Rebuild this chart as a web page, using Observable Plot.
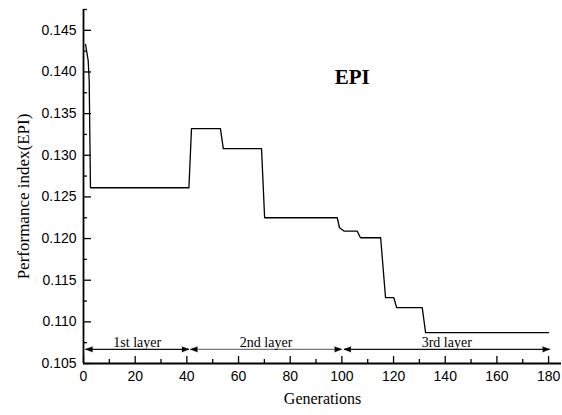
<!DOCTYPE html>
<html>
<head>
<meta charset="utf-8">
<script src="https://cdn.jsdelivr.net/npm/d3@7"></script>
<script src="https://cdn.jsdelivr.net/npm/@observablehq/plot@0.6"></script>
<style>
  html, body { margin: 0; padding: 0; background: #fff; }
  #chart svg { display: block; }
</style>
</head>
<body>
<div id="chart"></div>
<script>
// EPI best value per generation
const generations = [0.8, 1.8, 2.2, 2.7, 40.8, 41.8, 53.0, 54.1, 68.9, 70.1, 98.2, 99.1, 100.8, 105.9, 107.2, 115.0, 116.9, 120.1, 121.2, 131.1, 132.4, 180];
const epi = [0.1433, 0.1414, 0.1390, 0.1261, 0.1261, 0.1332, 0.1332, 0.1308, 0.1308, 0.1225, 0.1225, 0.1213, 0.1209, 0.1209, 0.1201, 0.1201, 0.1129, 0.1129, 0.1117, 0.1117, 0.1087, 0.1087];

// optimisation phases
const layerNames = ["1st layer", "2nd layer", "3rd layer"];
const layerStart = [0.8, 41.4, 100.8];
const layerEnd = [40.8, 99.9, 180.4];
const layerLevel = 0.1067;

// axis ticks
const xMajor = [0, 20, 40, 60, 80, 100, 120, 140, 160, 180];
const xMinor = [10, 30, 50, 70, 90, 110, 130, 150, 170];
const yMajor = [0.105, 0.110, 0.115, 0.120, 0.125, 0.130, 0.135, 0.140, 0.145];
const yMinor = [0.1075, 0.1125, 0.1175, 0.1225, 0.1275, 0.1325, 0.1375, 0.1425, 0.1475];

const series = generations.map((g, i) => ({g, v: epi[i]}));
const layers = layerNames.map((name, i) => ({
  name, x1: layerStart[i], x2: layerEnd[i], mid: (layerStart[i] + layerEnd[i]) / 2, y: layerLevel
}));

const W = 562, H = 415;
const mL = 83, mR = 1, mT = 9, mB = 52;
const frameW = W - mL - mR, frameH = H - mT - mB;

const serif = "'Liberation Serif', 'Times New Roman', serif";
const sans = "'Liberation Sans', Arial, sans-serif";

const chart = Plot.plot({
  width: W,
  height: H,
  marginLeft: mL,
  marginRight: mR,
  marginTop: mT,
  marginBottom: mB,
  style: {fontFamily: sans, fontSize: "14px", color: "#000", background: "#fff"},
  x: {domain: [0, 185]},
  y: {domain: [0.105, 0.1475]},
  marks: [
    // tick labels
    Plot.axisX({ticks: xMajor, tickSize: 0, tickPadding: 8, tickFormat: d3.format("d"), label: null, fontSize: 14}),
    Plot.axisY({ticks: yMajor, tickSize: 0, tickPadding: 7, tickFormat: d3.format(".3f"), label: null, fontSize: 14}),
    // inward tick marks
    Plot.ruleX(xMajor, {x: d => d, insetTop: frameH - 7, stroke: "#000", strokeWidth: 1.3}),
    Plot.ruleX(xMinor, {x: d => d, insetTop: frameH - 4, stroke: "#000", strokeWidth: 1.3}),
    Plot.ruleY(yMajor, {y: d => d, insetRight: frameW - 8, stroke: "#000", strokeWidth: 1.3}),
    Plot.ruleY(yMinor, {y: d => d, insetRight: frameW - 4, stroke: "#000", strokeWidth: 1.3}),
    // axis lines
    Plot.ruleX([0], {stroke: "#000", strokeWidth: 1.8}),
    Plot.ruleY([0.105], {stroke: "#000", strokeWidth: 1.8}),
    // layer spans with double-headed arrows
    Plot.link(layers, {x1: "x1", x2: "x2", y1: "y", y2: "y", stroke: (d, i) => i === 1 ? "#777" : "#111", strokeWidth: 1.1}),
    Plot.vector(layers, {x: "x2", y: "y", length: 7, r: 2.6, rotate: 90, anchor: "end", shape: "spike", fill: "#000", stroke: "#000", strokeWidth: 0.5}),
    Plot.vector(layers, {x: "x1", y: "y", length: 7, r: 2.6, rotate: -90, anchor: "end", shape: "spike", fill: "#000", stroke: "#000", strokeWidth: 0.5}),
    Plot.text(layers, {x: "mid", y: "y", text: "name", lineAnchor: "bottom", dy: -2.5, fontFamily: serif, fontSize: 14, fill: "#000"}),
    // EPI trajectory
    Plot.line(series, {x: "g", y: "v", stroke: "#000", strokeWidth: 1.3}),
    // titles
    Plot.text(["EPI"], {x: 104, y: 0.1394, text: d => d, fontFamily: serif, fontSize: 21, fontWeight: "bold", fill: "#000"}),
    Plot.text(["Generations"], {frameAnchor: "bottom", dy: 40, text: d => d, fontFamily: serif, fontSize: 16, fill: "#000"}),
    Plot.text(["Performance index(EPI)"], {frameAnchor: "left", textAnchor: "middle", dx: -60, dy: 10, rotate: -90, text: d => d, fontFamily: serif, fontSize: 17, fill: "#000"})
  ]
});

document.getElementById("chart").appendChild(chart);
</script>
</body>
</html>
